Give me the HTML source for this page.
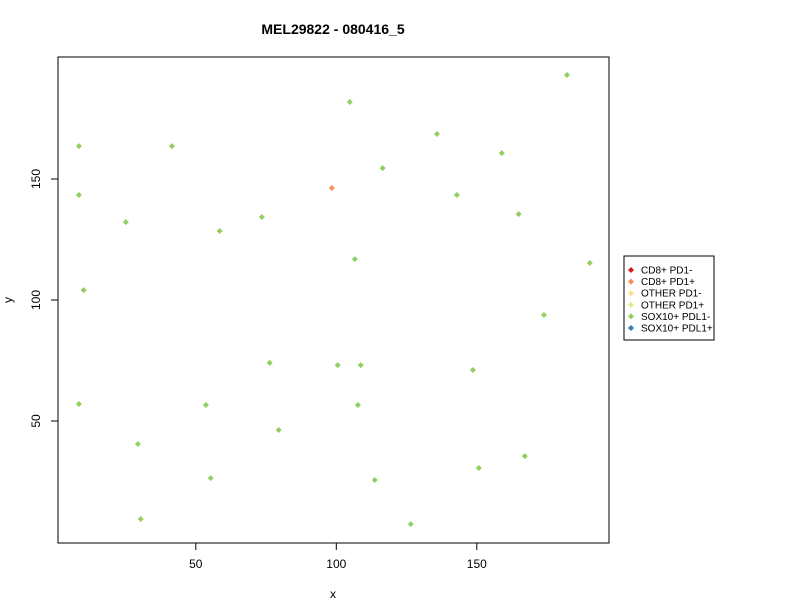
<!DOCTYPE html>
<html><head><meta charset="utf-8"><style>body{margin:0;background:#fff}svg{display:block;font-family:"Liberation Sans",Arial,sans-serif}</style></head>
<body>
<svg id="chart" width="800" height="600">
<text x="333" y="34" text-anchor="middle" font-size="14" font-weight="bold">MEL29822 - 080416_5</text>
<rect x="58" y="57" width="551" height="486" fill="none" stroke="#000"/>
<text x="333" y="598" text-anchor="middle" font-size="12">x</text>
<text transform="translate(12,300) rotate(-90)" text-anchor="middle" font-size="12">y</text>
<g id="axes"></g><g id="points"></g>
<g>
<rect x="624" y="256" width="90" height="84" fill="#fff" stroke="#000"/>
<g id="legend"></g></g>
</svg>
<script>
const categories=["CD8+ PD1-","CD8+ PD1+","OTHER PD1-","OTHER PD1+","SOX10+ PDL1-","SOX10+ PDL1+"];
const colors=["#D7191C","#FC8D59","#FEE08B","#D9EF8B","#91CF60","#2C7BB6"];
const xs=[8.4,8.4,10.1,8.4,25.1,41.5,29.4,30.4,58.5,53.6,55.3,73.5,76.3,79.5,98.4,104.8,116.5,106.6,100.5,108.7,107.7,113.7,126.5,135.8,142.9,158.9,164.9,148.6,150.7,167.1,173.9,182.1,190.2];
const ys=[163.6,143.4,104.1,57,132.2,163.6,40.5,9.5,128.5,56.6,26.4,134.3,74,46.3,146.3,181.8,154.5,116.9,73.1,73.1,56.6,25.6,7.4,168.6,143.4,160.7,135.5,71.1,30.6,35.5,93.8,193,115.3];
const cls=[4,4,4,4,4,4,4,4,4,4,4,4,4,4,1,4,4,4,4,4,4,4,4,4,4,4,4,4,4,4,4,4,4];
const xTicks=[50,100,150];
const yTicks=[50,100,150];
const NS="http://www.w3.org/2000/svg";
const sx=v=>55.3+v*2.81, sy=v=>542-v*2.42;
const ax=document.getElementById('axes'),pts=document.getElementById('points'),lg=document.getElementById('legend');
function mk(t,a,p){const e=document.createElementNS(NS,t);for(const k in a)e.setAttribute(k,a[k]);p.appendChild(e);return e;}
xTicks.forEach(t=>{const x=sx(t);
const l=mk('line',{x1:x,x2:x,y1:543,y2:550,stroke:'#000'},ax);


const tx=mk('text',{x:x,y:568,'text-anchor':'middle','font-size':12},ax);tx.textContent=t;

});
yTicks.forEach(t=>{const y=sy(t);
const l=mk('line',{x1:51,x2:58,y1:y,y2:y,stroke:'#000'},ax);


const tx=mk('text',{transform:`translate(40,${y}) rotate(-90)`,'text-anchor':'middle','font-size':12},ax);tx.textContent=t;

});
function diamond(cx,cy,c,p){return mk('polygon',{points:`${cx},${cy-3} ${cx+3},${cy} ${cx},${cy+3} ${cx-3},${cy}`,fill:c},p);}
xs.forEach((v,i)=>{const d=diamond(sx(v),sy(ys[i]),colors[cls[i]],pts);

});
categories.forEach((c,i)=>{const y=270+i*11.6;
const d=diamond(631,y,colors[i],lg);


const t=mk('text',{x:641,y:y+3.5,'font-size':10},lg);t.textContent=c;

});
</script>
</body></html>
